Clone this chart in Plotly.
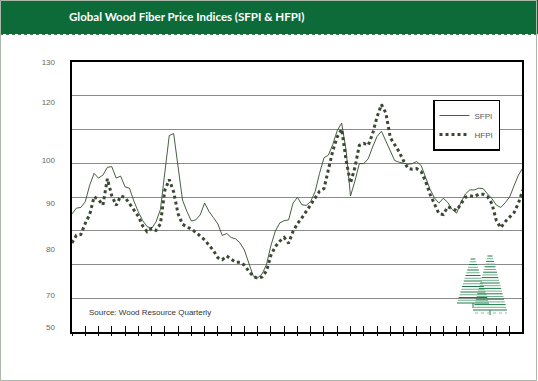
import plotly.graph_objects as go

# ---------------- data ----------------
quarters = list(range(103))
sfpi = [85.0, 86.7, 86.9, 88.6, 93.5, 97.0, 95.6, 96.5, 98.8, 99.0,
        95.6, 96.2, 93.0, 92.6, 88.8, 85.6, 83.0, 81.2, 80.7, 82.6,
        86.3, 97.4, 108.2, 108.8, 98.7, 89.1, 85.7, 82.9, 83.2, 84.7,
        88.2, 85.7, 83.9, 82.0, 78.6, 79.2, 78.0, 77.6, 76.4, 74.3,
        70.4, 66.6, 66.0, 67.2, 70.0, 75.6, 79.9, 82.3, 83.0, 83.2,
        88.2, 89.9, 87.7, 87.5, 88.7, 91.6, 97.0, 101.6, 102.4, 105.6,
        109.7, 111.9, 103.9, 90.3, 94.7, 99.9, 99.9, 101.3, 104.8, 107.9,
        109.5, 106.6, 103.5, 100.8, 100.3, 100.0, 99.7, 99.9, 100.5, 99.3,
        95.8, 92.3, 89.7, 88.2, 89.6, 88.4, 86.3, 85.2, 88.5, 90.9,
        92.1, 92.1, 92.6, 92.5, 90.9, 89.5, 87.6, 86.9, 88.3, 90.0,
        93.3, 96.5, 98.6]
hfpi = [76.4, 78.7, 78.9, 82.2, 84.8, 90.1, 89.2, 87.6, 95.4, 90.4,
        87.5, 90.3, 89.9, 88.1, 86.0, 84.3, 81.4, 79.7, 80.7, 80.1,
        82.0, 92.0, 95.2, 91.5, 85.0, 81.9, 81.2, 80.5, 79.6, 78.4,
        77.3, 75.7, 74.1, 72.0, 71.4, 72.5, 71.7, 70.7, 70.7, 69.8,
        68.0, 66.5, 65.9, 66.3, 68.1, 72.7, 75.3, 76.9, 78.0, 76.3,
        79.8, 82.1, 83.8, 85.8, 88.0, 89.8, 91.7, 92.5, 97.7, 103.7,
        107.8, 110.1, 101.0, 94.1, 98.8, 105.3, 105.9, 105.3, 108.7, 113.7,
        117.4, 114.9, 107.6, 105.4, 103.4, 100.7, 98.5, 98.2, 98.4, 97.5,
        94.6, 90.8, 88.1, 85.1, 84.8, 87.1, 86.5, 86.0, 88.0, 89.9,
        90.4, 90.1, 90.8, 90.8, 90.1, 88.0, 83.0, 80.9, 82.7, 84.0,
        85.4, 88.2, 92.1]
ytick_labels = ["130", "120", "100", "90", "80", "70", "50"]
ytick_at = [130, 118.2, 101, 88.2, 74.6, 61, 51.5]
series_names = ["SFPI", "HFPI"]
title_text = "Global Wood Fiber Price Indices (SFPI & HFPI)"
source_text = "Source: Wood Resource Quarterly"

# ---------------- layout geometry ----------------
W, H = 538, 381
ML, MR, MT, MB = 72, 16, 62, 49
PW, PH = W - ML - MR, H - MT - MB


def px(x):
    return (x - ML) / PW


def py(y):
    return (H - MB - y) / PH


GREEN = "#0d6b3a"
SF_COL = "#2f4f2a"
HF_COL = "#3a4834"

fig = go.Figure()
fig.add_trace(go.Scatter(x=quarters, y=sfpi, mode="lines", name=series_names[0],
                         line=dict(color=SF_COL, width=0.9),
                         legendgroup="a", hoverinfo="skip"))
fig.add_trace(go.Scatter(x=quarters, y=hfpi, mode="lines", name=series_names[1],
                         line=dict(color=HF_COL, width=3, dash="dot"),
                         legendgroup="b", hoverinfo="skip"))
# invisible helper trace for the overlay axes
fig.add_trace(go.Scatter(x=quarters, y=sfpi, mode="lines", xaxis="x2", yaxis="y2",
                         line=dict(color="rgba(0,0,0,0)", width=0),
                         showlegend=False, hoverinfo="skip"))

xr = [0, 101.8]
yr = [50, 130]

shapes = []
# green banner
shapes.append(dict(type="rect", xref="paper", yref="paper", x0=px(-2), x1=px(W + 2),
                   y0=py(34), y1=py(-2), fillcolor=GREEN, line=dict(width=0), layer="below"))
shapes.append(dict(type="line", xref="paper", yref="paper", x0=px(0), x1=px(W),
                   y0=py(34.5), y1=py(34.5), line=dict(color="#3e7d55", width=1, dash="dot")))
# outer page frame
shapes.append(dict(type="rect", xref="paper", yref="paper", x0=px(0.5), x1=px(536.5),
                   y0=py(380.5), y1=py(0.5), line=dict(color="#a9b8a9", width=1)))

# tree logo (decoration)
trees = [(473, 259, 303, 16), (490, 256, 310, 17)]
for k, (cx, ytop, ybot, hw) in enumerate(trees):
    n = int((ybot - ytop) / 2.6)
    for j in range(n + 1):
        yy = ytop + j * (ybot - ytop) / n
        w = hw * (0.15 + 0.85 * j / n)
        col = "#1c7a48" if j % 2 == 0 else "#6fb18c"
        shapes.append(dict(type="line", xref="paper", yref="paper",
                           x0=px(cx - w), x1=px(cx + w), y0=py(yy), y1=py(yy),
                           line=dict(color=col, width=1)))
    shapes.append(dict(type="line", xref="paper", yref="paper",
                       x0=px(cx), x1=px(cx), y0=py(ybot), y1=py(ybot + 5),
                       line=dict(color="#1c7a48", width=1)))
shapes.append(dict(type="line", xref="paper", yref="paper", x0=px(475), x1=px(507),
                   y0=py(313), y1=py(313), line=dict(color="#8cc0a0", width=1, dash="dot")))

annotations = [
    dict(text="<b>" + title_text + "</b>", xref="paper", yref="paper", x=px(67), y=py(16.5),
         xanchor="left", yanchor="middle", showarrow=False,
         font=dict(family="Lato", size=11.5, color="white")),
    dict(text=source_text, xref="paper", yref="paper", x=px(87), y=py(312),
         xanchor="left", yanchor="middle", showarrow=False,
         font=dict(family="Liberation Sans", size=8, color="#333333")),
]

fig.update_layout(
    width=W, height=H,
    margin=dict(l=ML, r=MR, t=MT, b=MB, pad=0),
    paper_bgcolor="white", plot_bgcolor="white",
    showlegend=True,
    legend=dict(x=px(433), y=py(99.5), xanchor="left", yanchor="top",
                bgcolor="white", bordercolor="black", borderwidth=1.5,
                font=dict(family="Liberation Sans", size=8, color="#555555"),
                traceorder="grouped", tracegroupgap=0, itemwidth=30),
    xaxis=dict(range=xr, tick0=0, dtick=3, ticks="inside", ticklen=6, tickcolor="black",
               tickwidth=1, showticklabels=False, showgrid=False, zeroline=False,
               showline=True, linecolor="black", linewidth=1.5, mirror=True),
    xaxis2=dict(range=xr, overlaying="x", anchor="y", tick0=0, dtick=3, ticks="outside",
                ticklen=3, tickcolor="black", tickwidth=1, showticklabels=False,
                showgrid=False, zeroline=False, showline=False),
    yaxis=dict(range=yr, dtick=10, showgrid=True, gridcolor="#8a8a8a", gridwidth=1,
               showticklabels=False, ticks="", zeroline=False,
               showline=True, linecolor="black", linewidth=1.5, mirror=True),
    yaxis2=dict(range=yr, overlaying="y", anchor="x", side="left",
                tickvals=ytick_at, ticktext=ytick_labels, ticks="",
                ticklabelstandoff=16, showgrid=False, zeroline=False, showline=False,
                tickfont=dict(family="Liberation Sans", size=8, color="#666666")),
    shapes=shapes,
    annotations=annotations,
)

fig.write_html("out.html", config={"displayModeBar": False},
               post_script="document.body.style.margin='0';document.body.style.overflow='hidden';")
